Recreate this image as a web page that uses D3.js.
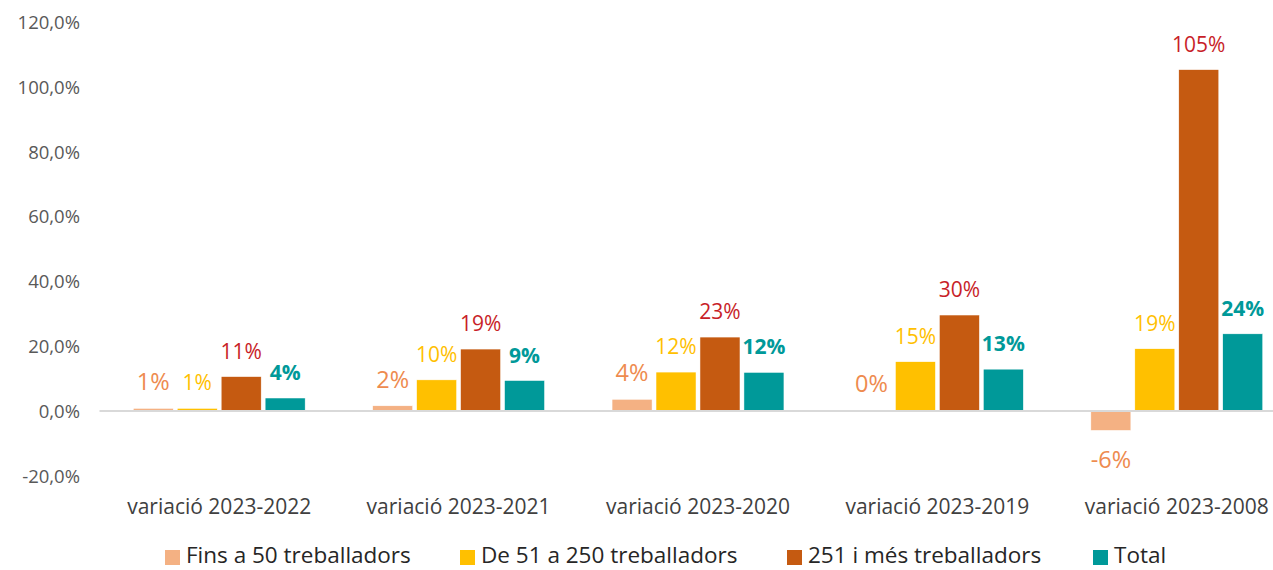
<!DOCTYPE html>
<html>
<head>
<meta charset="utf-8">
<script src="https://cdn.jsdelivr.net/npm/d3@7"></script>
<style>
  html, body { margin: 0; padding: 0; background: #fff; }
  svg { display: block; font-family: "Open Sans", "Liberation Sans", sans-serif; }
</style>
</head>
<body>
<svg id="chart" width="1273" height="570"></svg>
<script>
const categories = ["variació 2023-2022", "variació 2023-2021", "variació 2023-2020", "variació 2023-2019", "variació 2023-2008"];
const seriesNames = ["Fins a 50 treballadors", "De 51 a 250 treballadors", "251 i més treballadors", "Total"];
const finsA50 = [0.8, 1.6, 3.6, 0.2, -6.0];
const de51a250 = [0.8, 9.6, 12.0, 15.2, 19.2];
const de251 = [10.6, 19.1, 22.8, 29.6, 105.3];
const total = [4.0, 9.4, 11.9, 12.9, 23.8];
const yTicks = [-20, 0, 20, 40, 60, 80, 100, 120];
const yTickLabels = ["-20,0%", "0,0%", "20,0%", "40,0%", "60,0%", "80,0%", "100,0%", "120,0%"];

const seriesValues = [finsA50, de51a250, de251, total];
const barColors = ["#F4B183", "#FFC000", "#C55A11", "#009999"];
const labelColors = ["#EE8B4F", "#FFC000", "#C81E28", "#009999"];
const labelWeights = ["normal", "normal", "normal", "bold"];
const labelSizes = [23.5, 21, 21, 21];

const svg = d3.select("#chart");
const W = 1273, H = 570;

const y = d3.scaleLinear().domain([-20, 120]).range([475.8, 22]);
const x0 = d3.scaleBand().domain(categories).range([99.5, 1296.5]).paddingInner(0.282).paddingOuter(0.141);
const x1 = d3.scaleBand().domain(seriesNames).range([0, x0.bandwidth()]).paddingInner(0.09).paddingOuter(0);

const loc = d3.formatLocale({decimal: ",", thousands: ".", grouping: [3], currency: ["", "€"], minus: "-"});
const fmtLabel = v => loc.format(".0f")(v) + "%";

// y axis labels
const yAxis = d3.axisLeft(y).tickValues(yTicks).tickSize(0).tickPadding(0)
  .tickFormat((d, i) => yTickLabels[i]);
const gy = svg.append("g").attr("transform", "translate(80,0)").call(yAxis);
gy.select(".domain").remove();
gy.selectAll("text")
  .attr("font-family", "Open Sans, Liberation Sans, sans-serif")
  .attr("font-size", 18.5)
  .attr("fill", "#595959")
  .attr("dy", "0.35em");

// bars
const groups = svg.append("g").selectAll("g")
  .data(categories).join("g")
  .attr("transform", d => `translate(${x0(d)},0)`);

seriesNames.forEach((s, si) => {
  groups.append("rect")
    .attr("x", x1(s))
    .attr("width", x1.bandwidth())
    .attr("y", (d, ci) => y(Math.max(0, seriesValues[si][ci])))
    .attr("height", (d, ci) => Math.abs(y(seriesValues[si][ci]) - y(0)))
    .attr("fill", barColors[si])
    .attr("stroke", "#fff")
    .attr("stroke-width", 0.5);
});

// zero line
svg.append("line")
  .attr("x1", 99.5).attr("x2", W)
  .attr("y1", y(0)).attr("y2", y(0))
  .attr("stroke", "#D9D9D9").attr("stroke-width", 2);

// data labels
seriesNames.forEach((s, si) => {
  groups.append("text")
    .attr("x", x1(s) + x1.bandwidth() / 2)
    .attr("y", (d, ci) => {
      const v = seriesValues[si][ci];
      return v >= 0 ? y(v) - 18 : y(v) + 38;
    })
    .attr("text-anchor", "middle")
    .attr("font-size", labelSizes[si])
    .attr("font-weight", labelWeights[si])
    .attr("fill", labelColors[si])
    .text((d, ci) => fmtLabel(seriesValues[si][ci]));
});

// category labels
svg.append("g").selectAll("text")
  .data(categories).join("text")
  .attr("x", d => x0(d) + x0.bandwidth() / 2)
  .attr("y", 514)
  .attr("text-anchor", "middle")
  .attr("font-size", 21)
  .attr("fill", "#404040")
  .text(d => d);

// legend
const legendX = [165, 460, 787, 1093];
const legend = svg.append("g").selectAll("g")
  .data(seriesNames).join("g")
  .attr("transform", (d, i) => `translate(${legendX[i]},0)`);
legend.append("rect")
  .attr("x", 0).attr("y", 550).attr("width", 15).attr("height", 15)
  .attr("fill", (d, i) => barColors[i]);
legend.append("text")
  .attr("x", 21).attr("y", 563)
  .attr("font-size", 22.5)
  .attr("fill", "#262626")
  .text(d => d);
</script>
</body>
</html>
